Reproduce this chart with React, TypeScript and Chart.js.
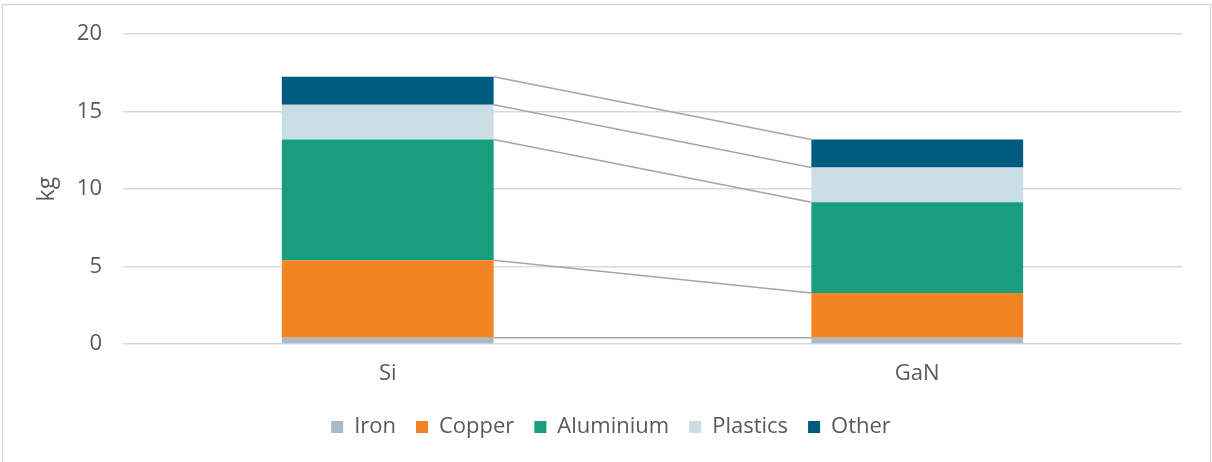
import React, { useEffect, useRef } from "react";
import { Chart, registerables } from "chart.js";

Chart.register(...registerables);

// Material mass per technology (kg)
const categories = ["Si", "GaN"];
const seriesNames = ["Iron", "Copper", "Aluminium", "Plastics", "Other"];
const iron = [0.4, 0.4];
const copper = [5.0, 2.9];
const aluminium = [7.8, 5.85];
const plastics = [2.25, 2.25];
const other = [1.8, 1.8];
const seriesColors = ["#A6BBC8", "#F28423", "#189D7E", "#CBDDE4", "#005B7F"];
const yAxisTitle = "kg";
const yMin = 0;
const yMax = 20;
const yStep = 5;

const TEXT = "#595959";
const FONT = "'Open Sans', 'DejaVu Sans', sans-serif";

// Light frame around the whole chart
const framePlugin = {
  id: "frame",
  beforeDraw(chart: any) {
    const { ctx } = chart;
    ctx.save();
    ctx.strokeStyle = "#D9D9D9";
    ctx.lineWidth = 1.5;
    ctx.strokeRect(2.5, 4.5, 1208, 520);
    ctx.restore();
  },
};

// Lines joining the top of each stacked segment between the two bars
const connectorPlugin = {
  id: "connectors",
  afterDatasetsDraw(chart: any) {
    const { ctx } = chart;
    ctx.save();
    ctx.strokeStyle = "#A5A5A5";
    ctx.lineWidth = 1.5;
    chart.data.datasets.forEach((_: any, i: number) => {
      const meta = chart.getDatasetMeta(i);
      for (let j = 0; j < meta.data.length - 1; j++) {
        const a = meta.data[j];
        const b = meta.data[j + 1];
        ctx.beginPath();
        ctx.moveTo(a.x + a.width / 2, a.y);
        ctx.lineTo(b.x - b.width / 2, b.y);
        ctx.stroke();
      }
    });
    ctx.restore();
  },
};

export default function App() {
  const canvasRef = useRef<HTMLCanvasElement | null>(null);

  useEffect(() => {
    document.body.style.margin = "0";
    const canvas = canvasRef.current;
    if (!canvas) return;
    const values = [iron, copper, aluminium, plastics, other];
    const chart = new Chart(canvas, {
      type: "bar",
      data: {
        labels: categories,
        datasets: seriesNames.map((name, i) => ({
          label: name,
          data: values[i],
          backgroundColor: seriesColors[i],
          borderWidth: 0,
          categoryPercentage: 1,
          barPercentage: 0.4,
        })),
      },
      options: {
        animation: false,
        responsive: false,
        devicePixelRatio: 1,
        layout: { padding: { left: 40, right: 30, top: 33, bottom: 14 } },
        plugins: {
          tooltip: { enabled: false },
          legend: {
            position: "bottom",
            labels: {
              boxWidth: 12,
              boxHeight: 12,
              padding: 20,
              color: TEXT,
              font: { family: FONT, size: 22 },
            },
          },
        },
        scales: {
          x: {
            stacked: true,
            grid: { display: false },
            border: { display: false },
            ticks: { color: TEXT, font: { family: FONT, size: 22 }, padding: 9 },
            afterFit: (scale: any) => {
              scale.height = 52;
            },
          },
          y: {
            stacked: true,
            min: yMin,
            max: yMax,
            ticks: {
              stepSize: yStep,
              color: TEXT,
              padding: 21,
              font: { family: FONT, size: 22 },
            },
            grid: { color: "#D9D9D9", lineWidth: 1.5, drawTicks: false },
            border: { display: false },
            title: {
              display: true,
              text: yAxisTitle,
              color: TEXT,
              font: { family: FONT, size: 23 },
              padding: { top: -6, bottom: 0 },
            },
            afterFit: (scale: any) => {
              scale.width = 83;
            },
          },
        },
      },
      plugins: [framePlugin, connectorPlugin],
    });
    return () => chart.destroy();
  }, []);

  return (
    <div style={{ width: 1212, height: 462, background: "#fff" }}>
      <canvas ref={canvasRef} width={1212} height={462} style={{ display: "block" }} />
    </div>
  );
}
